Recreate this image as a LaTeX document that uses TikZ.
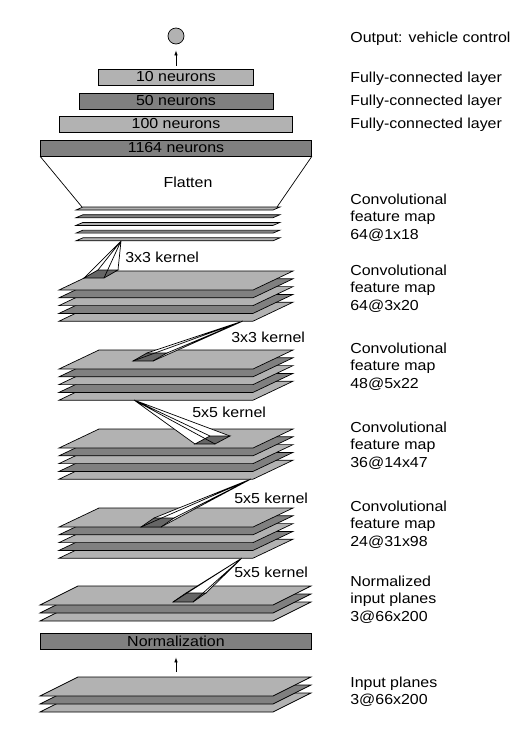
\documentclass[tikz,border=0pt]{standalone}
\usepackage{fontspec}
\setmainfont{Liberation Sans}[FakeStretch=1.1]
\usetikzlibrary{arrows.meta}

\colorlet{planelight}{gray!60}
\colorlet{planedark}{gray}
\colorlet{kernelfill}{black!60}

\tikzset{
  layerbox/.style={draw,minimum height=16pt,inner sep=0pt},
  sidelabel/.style={anchor=base west,align=left,inner sep=0pt},
  kernellabel/.style={anchor=base west,inner sep=0pt},
  flowarrow/.style={-{Latex[length=5pt,width=3.5pt]}},
}

\begin{document}
\begin{tikzpicture}[x=1pt,y=-1pt,line width=0.7pt,font=\fontsize{14.5}{17.5}\selectfont]
\useasboundingbox (0,0) rectangle (532,729);

% fully-connected part
\node[circle,draw,fill=planelight,minimum size=16pt,inner sep=0pt] (out) at (176,36) {};
\node[layerbox,fill=planelight,minimum width=155pt] (fc10) at (176,77) {10 neurons};
\node[layerbox,fill=planedark,minimum width=194pt] (fc50) at (176,101) {50 neurons};
\node[layerbox,fill=planelight,minimum width=233pt] (fc100) at (176,124) {100 neurons};
\node[layerbox,fill=planedark,minimum width=271pt] (flat) at (176,148) {1164 neurons};
\draw[flowarrow,shorten <=3pt,shorten >=6pt] (fc10) -- (out);

% flatten
\draw (flat.south west) -- (82,207);
\draw (flat.south east) -- (277,207);
\node at (188,182) {Flatten};

% feature map stacks
\foreach \i/\c in {4/planelight,3/planedark,2/planelight,1/planedark,0/planelight}
  \draw[fill=\c] (76,210+7.7*\i) -- ++(197,0) -- ++(7,-3) -- ++(-197,0) -- cycle;
\foreach \i/\c in {4/planelight,3/planedark,2/planelight,1/planedark,0/planelight}
  \draw[fill=\c] (59,290+7.8*\i) -- ++(194,0) -- ++(40,-19) -- ++(-194,0) -- cycle;
\foreach \i/\c in {4/planelight,3/planedark,2/planelight,1/planedark,0/planelight}
  \draw[fill=\c] (59,369+7.8*\i) -- ++(194,0) -- ++(40,-19) -- ++(-194,0) -- cycle;
\foreach \i/\c in {4/planelight,3/planedark,2/planelight,1/planedark,0/planelight}
  \draw[fill=\c] (59,448+7.8*\i) -- ++(194,0) -- ++(40,-19) -- ++(-194,0) -- cycle;
\foreach \i/\c in {4/planelight,3/planedark,2/planelight,1/planedark,0/planelight}
  \draw[fill=\c] (59,527+7.8*\i) -- ++(194,0) -- ++(40,-19) -- ++(-194,0) -- cycle;
\foreach \i/\c in {2/planelight,1/planedark,0/planelight}
  \draw[fill=\c] (40,605+8*\i) -- ++(233,0) -- ++(38,-19) -- ++(-233,0) -- cycle;

% kernels: apex / lower left corner / width / height / skew
\foreach \ax/\ay/\bx/\by/\w/\h/\s in {121/241/84/278/20/8/14, 243/321/133/361/20/8/14,
    134/400/195/444/20/8/15, 251/479/141/527/20/9/13, 242/558/173/602/20/9/13} {
  \fill[white] (\ax,\ay) -- (\bx,\by) -- (\bx+\w,\by) -- cycle;
  \fill[white] (\ax,\ay) -- (\bx+\w,\by) -- (\bx+\w+\s,\by-\h) -- cycle;
  \fill[white] (\ax,\ay) -- (\bx+\w+\s,\by-\h) -- (\bx+\s,\by-\h) -- cycle;
  \fill[white] (\ax,\ay) -- (\bx+\s,\by-\h) -- (\bx,\by) -- cycle;
  \draw[fill=kernelfill] (\bx,\by) -- ++(\w,0) -- ++(\s,-\h) -- ++(-\w,0) -- cycle;
  \draw (\ax,\ay) -- (\bx,\by) (\ax,\ay) -- (\bx+\w,\by)
        (\ax,\ay) -- (\bx+\w+\s,\by-\h) (\ax,\ay) -- (\bx+\s,\by-\h);
}
\node[kernellabel] at (125,262) {3x3 kernel};
\node[kernellabel] at (231,342) {3x3 kernel};
\node[kernellabel] at (192,417) {5x5 kernel};
\node[kernellabel] at (234,503) {5x5 kernel};
\node[kernellabel] at (234,577) {5x5 kernel};

% normalization and input
\node[layerbox,fill=planedark,minimum width=271pt] (norm) at (176,641) {Normalization};
\foreach \i/\c in {2/planelight,1/planedark,0/planelight}
  \draw[fill=\c] (40,696+8*\i) -- ++(233,0) -- ++(38,-19) -- ++(-233,0) -- cycle;
\coordinate (inp) at (176,672);
\draw[flowarrow,shorten >=8pt] (inp) -- (norm);

% right-hand labels (base = last line)
\node[sidelabel] at (350,42) {Output: vehicle control};
\node[sidelabel] at (350,82) {Fully-connected layer};
\node[sidelabel] at (350,105) {Fully-connected layer};
\node[sidelabel] at (350,128) {Fully-connected layer};
\node[sidelabel] at (350,239) {Convolutional\\feature map\\64@1x18};
\node[sidelabel] at (350,310) {Convolutional\\feature map\\64@3x20};
\node[sidelabel] at (350,388) {Convolutional\\feature map\\48@5x22};
\node[sidelabel] at (350,467) {Convolutional\\feature map\\36@14x47};
\node[sidelabel] at (350,546) {Convolutional\\feature map\\24@31x98};
\node[sidelabel] at (350,621) {Normalized\\input planes\\3@66x200};
\node[sidelabel] at (350,704.5) {Input planes\\3@66x200};
\end{tikzpicture}
\end{document}
